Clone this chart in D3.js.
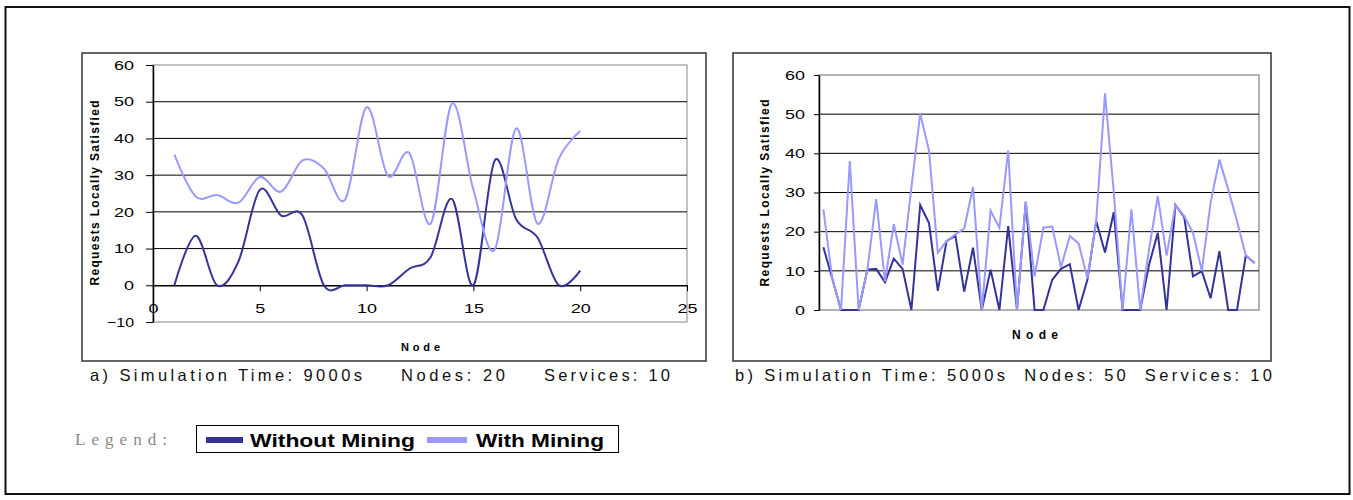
<!DOCTYPE html>
<html lang="en">
<head>
<meta charset="UTF-8">
<title>Requests Locally Satisfied</title>
<script src="https://d3js.org/d3.v7.min.js"></script>
<style>
  body { margin: 0; background: #fff; }
  text { font-family: "Liberation Sans", Arial, sans-serif; }
</style>
</head>
<body>
<div id="chart"></div>
<script>
// chart a) 20 nodes, smoothed lines
const withoutA = [0, 13.5, 0, 6.5, 26, 19, 19, 0, 0, 0, 0, 4.5, 7.7, 23.5, 0, 34, 18, 13, 0, 4];
const withA = [35.6, 24.2, 24.6, 22.5, 29.5, 25.5, 34, 31.8, 23.4, 48.5, 29.8, 36, 16.8, 49.5, 26, 9.7, 42.7, 16.8, 34.5, 42];
const xTicksA = [0, 5, 10, 15, 20, 25];
const yTicksA = [-10, 0, 10, 20, 30, 40, 50, 60];

// chart b) 50 nodes, straight lines
const withoutB = [16, 8.1, 0, 0, 0, 10.3, 10.5, 7.1, 13.1, 10.5, 0, 26.8, 22.2, 4.9, 17.6,
  19, 4.7, 15.9, 0, 10.3, 0, 21.4, 0, 27.6, 0, 0, 7.7, 10.5, 11.7, 0,
  7.7, 22.7, 14.7, 25, 0, 0, 0, 11.5, 19.7, 0, 26.8, 23.7, 8.6, 9.9, 3, 15, 0, 0, 13.9, 12];
const withB = [25.7, 8.1, 0, 38, 0, 10.3, 28.3, 7.3, 21.9, 11.6, 31.3, 50.1, 40.7, 14.6, 17.6,
  19.3, 20.8, 31.4, 0, 25.4, 21, 40.7, 0, 27.6, 8.6, 21, 21.3, 10.9, 18.9, 17,
  8.1, 22.7, 55.3, 30, 0, 25.7, 0, 15.4, 29.1, 13.9, 26.8, 24, 19.7, 10, 27.4, 38.4, 30.8, 22.7, 13.9, 12];
const yTicksB = [0, 10, 20, 30, 40, 50, 60];

const seriesNames = ["Without Mining", "With Mining"];
const colors = ["#333399", "#9999ff"];

const svg = d3.select("#chart").append("svg")
  .attr("width", 1353).attr("height", 500);

// outer frame and the two chart frames
svg.append("rect").attr("x", 5.5).attr("y", 7).attr("width", 1344).attr("height", 487)
  .attr("fill", "none").attr("stroke", "#111").attr("stroke-width", 2);
svg.append("rect").attr("x", 82).attr("y", 53).attr("width", 624).attr("height", 308)
  .attr("fill", "none").attr("stroke", "#333").attr("stroke-width", 1.5);
svg.append("rect").attr("x", 733).attr("y", 53).attr("width", 538).attr("height", 308)
  .attr("fill", "none").attr("stroke", "#333").attr("stroke-width", 1.5);

// stretch tick labels, the originals use wide digits
function widen(sel, perChar) {
  sel.selectAll(".tick text").each(function() {
    const t = d3.select(this).text();
    if (!t) return;
    d3.select(this).attr("textLength", t.length * perChar).attr("lengthAdjust", "spacingAndGlyphs");
  });
}

// ---------- chart a ----------
const xA = d3.scaleLinear().domain([0, 25]).range([153, 687]);
const yA = d3.scaleLinear().domain([-10, 60]).range([322, 65]);

const gA = svg.append("g");
gA.append("rect").attr("x", 153).attr("y", 65).attr("width", 534).attr("height", 257)
  .attr("fill", "none").attr("stroke", "#999").attr("stroke-width", 1.2);
gA.selectAll(".grid").data([10, 20, 30, 40, 50]).enter().append("line")
  .attr("x1", 153).attr("x2", 687).attr("y1", d => yA(d)).attr("y2", d => yA(d))
  .attr("stroke", "#000").attr("stroke-width", 1);

const yAxisA = gA.append("g").attr("transform", "translate(153,0)")
  .call(d3.axisLeft(yA).tickValues(yTicksA).tickSize(7).tickPadding(12).tickSizeOuter(0));
const xAxisA = gA.append("g").attr("transform", `translate(0,${yA(0)})`)
  .call(d3.axisBottom(xA).tickValues(xTicksA).tickSize(6).tickPadding(12).tickSizeOuter(0));
[yAxisA, xAxisA].forEach(a => {
  a.select(".domain").attr("stroke", "#000").attr("stroke-width", 1.5);
  a.selectAll(".tick line").attr("stroke", "#000");
  a.selectAll(".tick text").attr("font-size", 13).attr("fill", "#000");
  widen(a, 10);
});
yAxisA.selectAll(".tick text").filter(d => d < 0).attr("textLength", 27);

const lineA = d3.line().x((d, i) => xA(i + 1)).y(d => yA(d)).curve(d3.curveCardinal.tension(0));
[withoutA, withA].forEach((s, k) => {
  gA.append("path").datum(s).attr("d", lineA)
    .attr("fill", "none").attr("stroke", colors[k]).attr("stroke-width", 2);
});

gA.append("text").attr("transform", "translate(99,193) rotate(-90)")
  .attr("text-anchor", "middle").attr("font-size", 12).attr("font-weight", "bold")
  .attr("textLength", 185).text("Requests Locally Satisfied");
gA.append("text").attr("x", 401).attr("y", 351).attr("font-size", 11).attr("font-weight", "bold")
  .attr("textLength", 39).text("Node");

// ---------- chart b ----------
const xB = d3.scalePoint().domain(withB.map((d, i) => i + 1)).range([819, 1259]).padding(0.5);
const yB = d3.scaleLinear().domain([0, 60]).range([310, 75]);

const gB = svg.append("g");
gB.append("rect").attr("x", 819).attr("y", 75).attr("width", 440).attr("height", 235)
  .attr("fill", "none").attr("stroke", "#999").attr("stroke-width", 1.5);
gB.selectAll(".grid").data([10, 20, 30, 40, 50]).enter().append("line")
  .attr("x1", 819).attr("x2", 1259).attr("y1", d => yB(d)).attr("y2", d => yB(d))
  .attr("stroke", "#000").attr("stroke-width", 1);

const yAxisB = gB.append("g").attr("transform", "translate(819,0)")
  .call(d3.axisLeft(yB).tickValues(yTicksB).tickSize(5).tickPadding(9).tickSizeOuter(0));
yAxisB.select(".domain").attr("stroke", "#000").attr("stroke-width", 1.5);
yAxisB.selectAll(".tick line").attr("stroke", "#000");
yAxisB.selectAll(".tick text").attr("font-size", 13).attr("fill", "#000");
widen(yAxisB, 10);

const lineB = d3.line().x((d, i) => xB(i + 1)).y(d => yB(d));
[withoutB, withB].forEach((s, k) => {
  gB.append("path").datum(s).attr("d", lineB)
    .attr("fill", "none").attr("stroke", colors[k]).attr("stroke-width", 2)
    .attr("stroke-linejoin", "miter");
});

gB.append("text").attr("transform", "translate(769,193) rotate(-90)")
  .attr("text-anchor", "middle").attr("font-size", 12).attr("font-weight", "bold")
  .attr("textLength", 187).text("Requests Locally Satisfied");
gB.append("text").attr("x", 1012).attr("y", 339).attr("font-size", 12).attr("font-weight", "bold")
  .attr("textLength", 46).text("Node");

// ---------- captions ----------
const capY = 381;
const capParts = [
  { x: 90, w: 272, t: "a) Simulation Time: 9000s" },
  { x: 401, w: 104, t: "Nodes: 20" },
  { x: 544, w: 126, t: "Services: 10" },
  { x: 735, w: 537, t: "b) Simulation Time: 5000s  Nodes: 50  Services: 10" }
];
svg.selectAll(".cap").data(capParts).enter().append("text")
  .attr("x", d => d.x).attr("y", capY).attr("font-size", 16.5).attr("fill", "#111")
  .attr("textLength", d => d.w).attr("lengthAdjust", "spacing")
  .style("white-space", "pre").text(d => d.t);

// ---------- legend ----------
svg.append("text").attr("x", 75).attr("y", 445).attr("font-size", 17)
  .style("font-family", "'Liberation Serif', 'Times New Roman', serif")
  .attr("fill", "#888").attr("textLength", 92).attr("lengthAdjust", "spacing").text("Legend:");
svg.append("rect").attr("x", 196.5).attr("y", 425.5).attr("width", 422).attr("height", 27)
  .attr("fill", "#fff").attr("stroke", "#000").attr("stroke-width", 1);
const legendItems = [
  { sx: 206, ex: 243, tx: 250, tw: 165 },
  { sx: 427, ex: 467, tx: 476, tw: 128 }
];
legendItems.forEach((it, k) => {
  svg.append("line").attr("x1", it.sx).attr("x2", it.ex).attr("y1", 440).attr("y2", 440)
    .attr("stroke", colors[k]).attr("stroke-width", 6);
  svg.append("text").attr("x", it.tx).attr("y", 447).attr("font-size", 19).attr("font-weight", "bold")
    .attr("textLength", it.tw).attr("lengthAdjust", "spacingAndGlyphs").attr("fill", "#000")
    .text(seriesNames[k]);
});
</script>
</body>
</html>
